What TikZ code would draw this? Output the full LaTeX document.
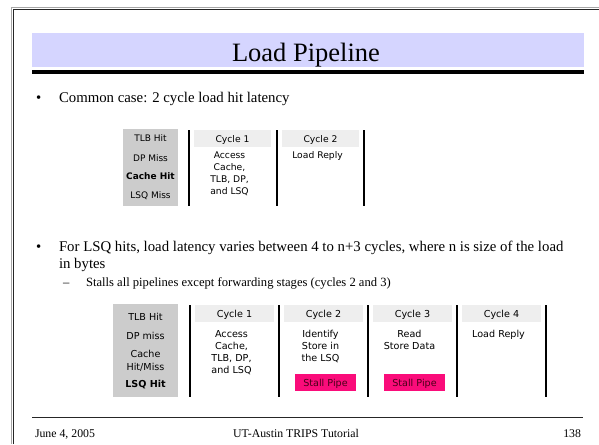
\documentclass[tikz,border=0pt]{standalone}
\usepackage{fontspec}
\setmainfont{Liberation Serif}
\newfontfamily\tabfont{DejaVu Sans}
\definecolor{bandblue}{RGB}{213,213,255}
\definecolor{labelgray}{RGB}{204,204,204}
\definecolor{headgray}{RGB}{238,238,238}
\definecolor{stallpink}{RGB}{250,12,122}
\definecolor{stallink}{RGB}{75,0,25}
\begin{document}
\begin{tikzpicture}[x=1pt,y=-1pt,
  every node/.style={inner sep=0pt, outer sep=0pt},
  titletext/.style={font=\fontsize{26.5}{30}\selectfont, anchor=base},
  bodytext/.style={font=\fontsize{14.8}{18}\selectfont, anchor=base west},
  subtext/.style={font=\fontsize{12.6}{16}\selectfont, anchor=base west},
  foottext/.style={font=\fontsize{11.8}{14}\selectfont},
  tabtext/.style={font=\tabfont\fontsize{9.6}{12}\selectfont, align=center},
  tabtextA/.style={font=\tabfont\fontsize{9.2}{12}\selectfont, align=center},
  labeltext/.style={font=\tabfont\fontsize{9.6}{13}\selectfont, align=center},
  labeltextA/.style={font=\tabfont\fontsize{9}{13}\selectfont, align=center},
  labelbox/.style={fill=labelgray, anchor=north west},
  hdrbox/.style={fill=headgray, minimum height=17pt, text height=7pt, text depth=0pt,
                 font=\tabfont\fontsize{9.6}{12}\selectfont},
  hdrboxA/.style={hdrbox, font=\tabfont\fontsize{9.2}{12}\selectfont},
  stallbox/.style={fill=stallpink, text=stallink, minimum width=61pt, minimum height=17pt,
                 text height=7pt, text depth=0pt, font=\tabfont\fontsize{9.6}{12}\selectfont},
  sepline/.style={line width=2pt, black},
  framedark/.style={line width=1.2pt, black!85},
  framelight/.style={line width=1pt, black!35}
]
\useasboundingbox (0,0) rectangle (599,444);
\fill[white] (0,0) rectangle (599,444);

% slide frame
\draw[framelight] (11.8,444) -- (11.8,7.8) -- (599,7.8);
\draw[framedark] (13.3,444) -- (13.3,9.3) -- (599,9.3);

% title
\node[fill=bandblue, anchor=north west, minimum width=552pt, minimum height=34pt] (band) at (32,33) {};
\node[titletext] (title) at (306,61.5) {Load Pipeline};
\coordinate (ruleL) at (32,72);
\coordinate (ruleR) at (584,72);
\draw[line width=3.2pt] (ruleL) -- (ruleR);

% bullet 1
\node[bodytext] (b1dot) at (36,102.5) {\textbullet};
\node[bodytext] (b1) at (59,102.5) {Common case: 2 cycle load hit latency};

% table 1
\node[labelbox, minimum width=55pt, minimum height=77pt] (g1) at (123,129) {};
\node[labeltextA, anchor=base] (t1l1) at (150.5,141.6) {TLB Hit};
\node[labeltextA, anchor=base] (t1l2) at (150.5,161) {DP Miss};
\node[labeltextA, anchor=base] (t1l3) at (150.5,179.4) {\bfseries Cache Hit};
\node[labeltextA, anchor=base] (t1l4) at (150.5,198.4) {LSQ Miss};
\foreach \i/\x in {1/189,2/277,3/364}{
  \coordinate (s1t\i) at (\x,130);
  \coordinate (s1b\i) at (\x,206);
  \draw[sepline] (s1t\i) -- (s1b\i);
}
\node[hdrboxA, minimum width=77pt] (t1h1) at (232.5,138.6) {Cycle 1};
\node[hdrboxA, minimum width=77pt] (t1h2) at (320.5,138.6) {Cycle 2};
\node[tabtextA, anchor=north] (t1c1) at (229.5,151.8) {Access\\Cache,\\TLB, DP,\\and LSQ};
\node[tabtextA, anchor=north] (t1c2) at (317.5,151.8) {Load Reply};

% bullet 2
\node[bodytext] (b2dot) at (36,251) {\textbullet};
\node[bodytext] (b2a) at (59,251) {For LSQ hits, load latency varies between 4 to n+3 cycles, where n is size of the load};
\node[bodytext] (b2b) at (59,268.5) {in bytes};
\node[subtext] (s1dash) at (63,286.5) {--};
\node[subtext] (s1) at (86,286.5) {Stalls all pipelines except forwarding stages (cycles 2 and 3)};

% table 2
\node[labelbox, minimum width=65pt, minimum height=93pt] (g2) at (113,304) {};
\node[labeltext, anchor=base] (t2l1) at (145.5,320.5) {TLB Hit};
\node[labeltext, anchor=base] (t2l2) at (145.5,339.5) {DP miss};
\node[labeltext, anchor=north] (t2l3) at (145.5,350.4) {Cache\\Hit/Miss};
\node[labeltext, anchor=base] (t2l4) at (145.5,387.5) {\bfseries LSQ Hit};
\foreach \i/\x in {1/190,2/279,3/368,4/457,5/546}{
  \coordinate (s2t\i) at (\x,305);
  \coordinate (s2b\i) at (\x,397);
  \draw[sepline] (s2t\i) -- (s2b\i);
}
\node[hdrbox, minimum width=79pt] (t2h1) at (234.5,313.5) {Cycle 1};
\node[hdrbox, minimum width=79pt] (t2h2) at (323.5,313.5) {Cycle 2};
\node[hdrbox, minimum width=79pt] (t2h3) at (412.5,313.5) {Cycle 3};
\node[hdrbox, minimum width=79pt] (t2h4) at (501.5,313.5) {Cycle 4};
\node[tabtext, anchor=north] (t2c1) at (231.5,330) {Access\\Cache,\\TLB, DP,\\and LSQ};
\node[tabtext, anchor=north] (t2c2) at (320.5,330) {Identify\\Store in\\the LSQ};
\node[tabtext, anchor=north] (t2c3) at (409.5,330) {Read\\Store Data};
\node[tabtext, anchor=north] (t2c4) at (498.5,330) {Load Reply};
\node[stallbox] (stall2) at (325.5,382.5) {Stall Pipe};
\node[stallbox] (stall3) at (414.5,382.5) {Stall Pipe};

% footer
\coordinate (footL) at (32,417);
\coordinate (footR) at (583,417);
\draw[line width=1pt, black!85] (footL) -- (footR);
\node[foottext, anchor=base west] (fdate) at (35,437) {June 4, 2005};
\node[foottext, anchor=base] (fmid) at (296,437) {UT-Austin TRIPS Tutorial};
\node[foottext, anchor=base east] (fpage) at (581,437) {138};
\end{tikzpicture}
\end{document}
